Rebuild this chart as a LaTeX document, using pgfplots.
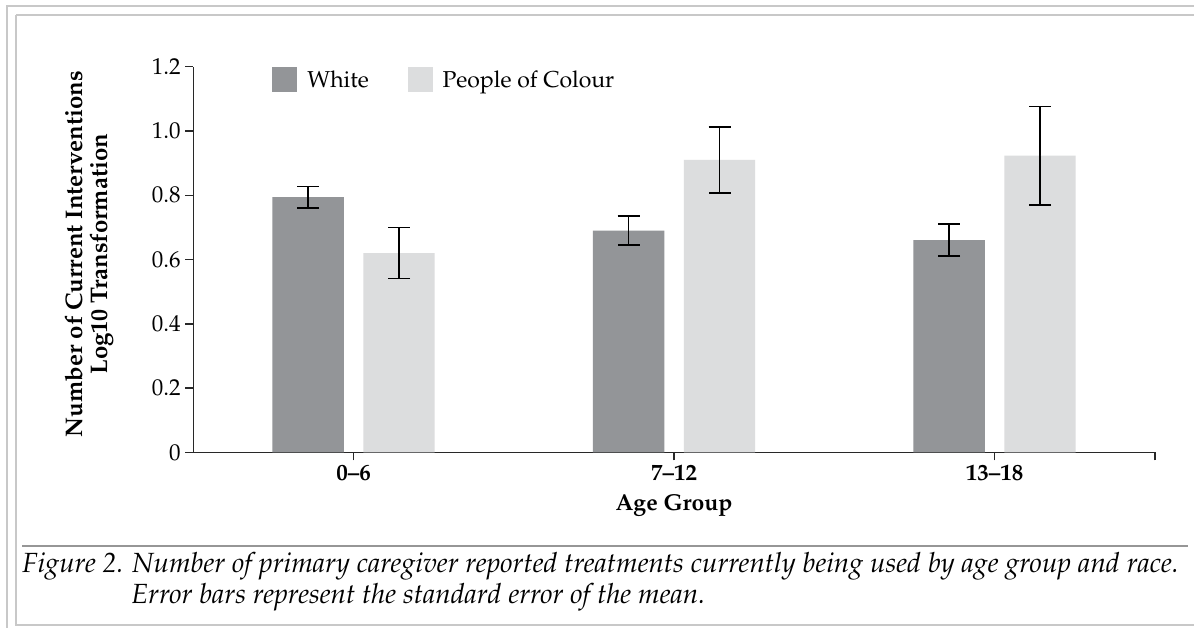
\documentclass[border=0pt]{standalone}
\usepackage[T1]{fontenc}
\usepackage{palatino}
\usepackage{pgfplots}
\pgfplotsset{compat=1.18}
\definecolor{whitebar}{RGB}{147,149,152}
\definecolor{pocbar}{RGB}{220,221,222}
\definecolor{framegray}{RGB}{200,200,200}
\definecolor{sepgray}{RGB}{150,150,150}
\definecolor{axisgray}{RGB}{40,40,40}
\newcommand{\fs}{\fontsize{17.25}{18.75}\selectfont}
\newcommand{\fy}{\fontsize{18}{18.75}\selectfont}
\newcommand{\fc}{\fontsize{20.8}{25}\selectfont}
\begin{document}
\begin{tikzpicture}
\begin{scope}[x=0.75pt,y=-0.75pt]
\useasboundingbox (0,0) rectangle (1194,628);
\fill[white] (0,0) rectangle (1194,628);
\draw[framegray, line width=1.5pt] (6,6) -- (1194,6);
\draw[framegray, line width=1.5pt] (7,6) -- (7,628);
\draw[framegray, line width=1.5pt] (16,14.5) -- (1194,14.5);
\draw[framegray, line width=1.5pt] (16,14.5) -- (16,624.5) -- (1194,624.5);
\draw[sepgray, line width=1.2pt] (22,546) -- (1188,546);
\node[anchor=base west, inner sep=0pt, font=\fc\itshape] at (22,572.7) {Figure 2. Number of primary caregiver reported treatments currently being used by age group and race.};
\node[anchor=base west, inner sep=0pt, font=\fc\itshape] at (131,603) {Error bars represent the standard error of the mean.};
\end{scope}
\begin{axis}[
  at={(144.975pt,-339.225pt)}, anchor=south west,
  scale only axis, width=721.1pt, height=289.2pt,
  xmin=-0.5, xmax=2.5, ymin=0, ymax=1.2,
  ybar=14.6pt, bar width=53.6pt,
  axis x line*=bottom, axis y line*=left,
  axis line style={-, line width=1.1pt, axisgray},
  tick style={line width=1.1pt, axisgray},
  tick align=outside, major tick length=6pt,
  xtick={0,1,2}, xticklabels={0--6,7--12,13--18},
  extra x ticks={2.5}, extra x tick labels={},
  ytick={0,0.2,0.4,0.6,0.8,1.0,1.2},
  yticklabels={0,0.2,0.4,0.6,0.8,1.0,1.2},
  font=\fs,
  xticklabel style={font=\fs\bfseries},
  yticklabel style={font=\fs},
  xlabel={Age Group},
  xlabel style={font=\fs\bfseries, at={(axis description cs:0.5,-0.152)}, anchor=base},
  ylabel={Number of Current Interventions\\Log10 Transformation},
  ylabel style={font=\fy\bfseries, align=center, at={(axis description cs:-0.1085,0.514)}, anchor=center},
  legend columns=2,
  legend style={draw=none, fill=none, inner sep=0pt, font=\fs,
    at={(axis description cs:0.0819,0.9656)}, anchor=west,
    /tikz/every even column/.append style={column sep=27pt},
    /tikz/every odd column/.append style={column sep=5.5pt}},
  legend image code/.code={\fill[#1] (0pt,-9.4pt) rectangle (18.75pt,9.4pt);},
]
\addplot[fill=whitebar, draw=none,
  error bars/.cd, y dir=both, y explicit,
  error bar style={draw=black, line width=1.2pt},
  error mark options={rotate=90, draw=black, line width=1.2pt, mark size=8.25pt}]
  table[x=x, y=y, y error=e] {
x y e
0 0.794 0.033
1 0.690 0.045
2 0.660 0.050
};
\addplot[fill=pocbar, draw=none,
  error bars/.cd, y dir=both, y explicit,
  error bar style={draw=black, line width=1.2pt},
  error mark options={rotate=90, draw=black, line width=1.2pt, mark size=8.25pt}]
  table[x=x, y=y, y error=e] {
x y e
0 0.620 0.079
1 0.910 0.103
2 0.923 0.153
};
\legend{White, People of Colour}
\end{axis}
\end{tikzpicture}
\end{document}
